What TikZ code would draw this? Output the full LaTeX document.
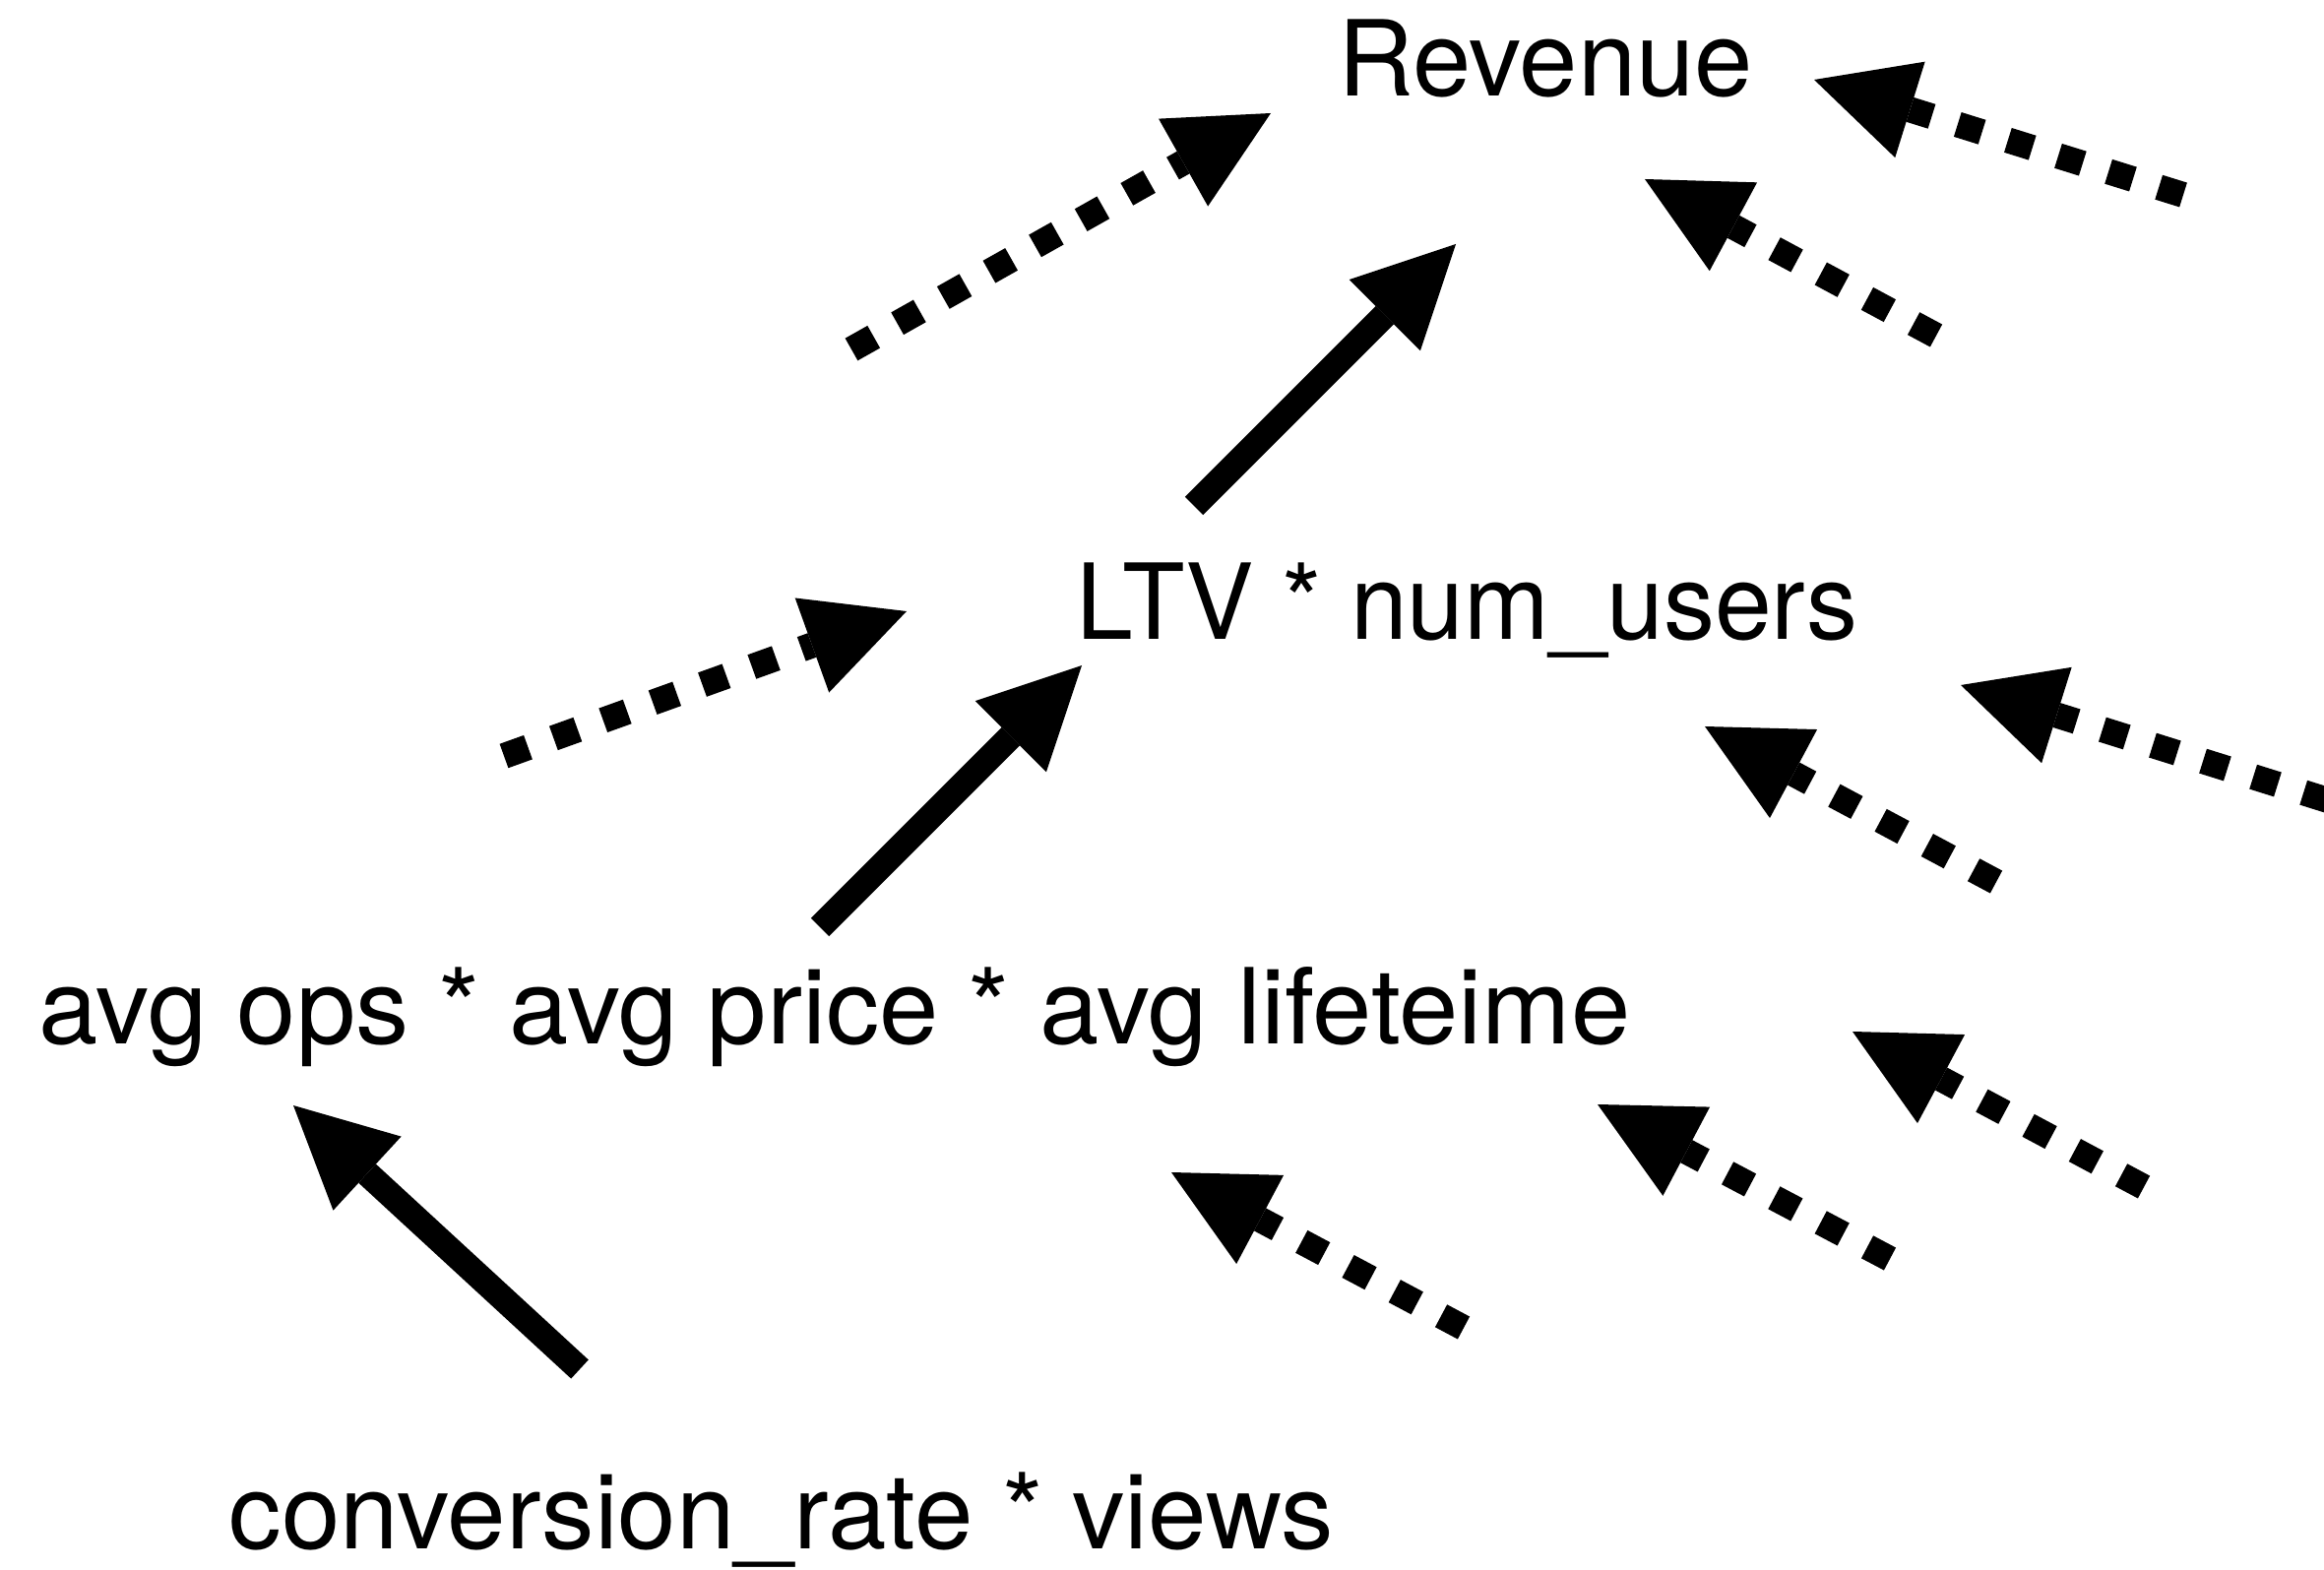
\documentclass[tikz,border=0pt]{standalone}
\usepackage{graphicx}
\usepackage{fontspec}
\setmainfont{TeX Gyre Heros}
\usetikzlibrary{arrows.meta}
\begin{document}
\begin{tikzpicture}[x=0.01cm,y=-0.01cm,
  lbl/.style={inner sep=0pt, anchor=base, font=\fontsize{30.3}{36}\selectfont},
  solidarrow/.style={line width=0.26cm, -{Triangle[length=1.02cm,width=1.02cm,line width=0pt]}},
  dotarrow/.style={solidarrow, dash pattern=on 0.26cm off 0.275cm}]
\useasboundingbox (0,0) rectangle (2361,1595);
\clip (0,0) rectangle (2361,1595);
% labels
\node[lbl] (rev)  at (1570,98)   {Revenue};
\node[lbl] (ltv)  at (1490,650)  {\scalebox{0.976}[1]{LTV * num\_users}};
\node[lbl] (avg)  at (848,1060)  {\scalebox{1.017}[1]{avg ops * avg price * avg lifeteime}};
\node[lbl] (conv) at (794,1573)  {\scalebox{1.004}[1]{conversion\_rate * views}};
% solid arrows
\coordinate (s1a) at (1213,514);  \coordinate (s1b) at (1479,248);
\coordinate (s2a) at (833,942);   \coordinate (s2b) at (1099,676);
\coordinate (s3a) at (589,1391);  \coordinate (s3b) at (298,1123);
\draw[solidarrow] (s1a) -- (s1b);
\draw[solidarrow] (s2a) -- (s2b);
\draw[solidarrow] (s3a) -- (s3b);
% dotted arrows
\coordinate (d1a) at (865,355);   \coordinate (d1b) at (1291,115);
\coordinate (d2a) at (2218,198);  \coordinate (d2b) at (1843,81);
\coordinate (d3a) at (1967,341);  \coordinate (d3b) at (1671,182);
\coordinate (d4a) at (512,768);   \coordinate (d4b) at (921,621);
\coordinate (d5a) at (2365,813);  \coordinate (d5b) at (1992,696);
\coordinate (d6a) at (2028,896);  \coordinate (d6b) at (1732,738);
\coordinate (d7a) at (2178,1206); \coordinate (d7b) at (1882,1048);
\coordinate (d8a) at (1920,1279); \coordinate (d8b) at (1623,1122);
\coordinate (d9a) at (1487,1349); \coordinate (d9b) at (1190,1191);
\foreach \i in {1,...,9}{\draw[dotarrow] (d\i a) -- (d\i b);}
\end{tikzpicture}
\end{document}
